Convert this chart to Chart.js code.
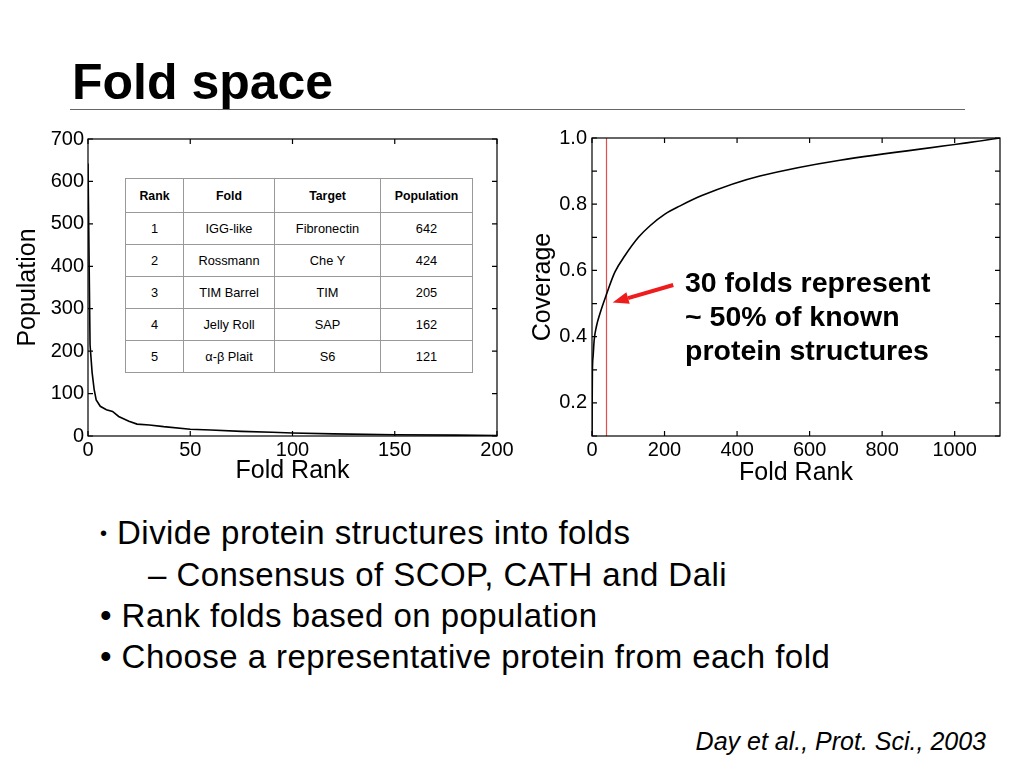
<!DOCTYPE html>
<html lang="en">
  <head>
    <meta charset="UTF-8" />
    <title>Fold space</title>
    <script src="https://cdn.jsdelivr.net/npm/chart.js"></script>
    <style>
      body {
        margin: 0;
        width: 1024px;
        height: 768px;
        overflow: hidden;
        background: #fff;
        font-family: "Liberation Sans", Arial, sans-serif;
        color: #000;
        position: relative;
      }
      h1 {
        position: absolute;
        left: 72px;
        top: 50px;
        margin: 0;
        font-size: 50px;
        font-weight: bold;
        line-height: 64px;
      }
      .rule {
        position: absolute;
        left: 70px;
        top: 109px;
        width: 895px;
        height: 0;
        border-top: 1.5px solid #666;
      }
      #popBox { position: absolute; left: 0; top: 120px; width: 530px; height: 370px; }
      #covBox { position: absolute; left: 520px; top: 120px; width: 504px; height: 370px; }
      table.folds {
        position: absolute;
        left: 125px;
        top: 178px;
        width: 348px;
        border-collapse: collapse;
        border: 1.5px solid #333;
        font-size: 12.8px;
        background: #fff;
      }
      table.folds th, table.folds td {
        border: 1px solid #999;
        text-align: center;
        padding: 0;
        height: 31px;
      }
      table.folds th { height: 33px; font-weight: bold; font-size: 12.3px; }
      .note {
        position: absolute;
        left: 685px;
        top: 265px;
        font-size: 28.5px;
        font-weight: bold;
        line-height: 34px;
      }
      .bullets {
        position: absolute;
        left: 100px;
        top: 512px;
        font-size: 33px;
        letter-spacing: 0.45px;
        line-height: 41px;
      }
      .bullets .small { font-size: 20px; vertical-align: 4px; }
      .cite {
        position: absolute;
        right: 38px;
        top: 727px;
        font-size: 25px;
        font-style: italic;
      }
    </style>
  </head>
  <body>
    <h1>Fold space</h1>
    <div class="rule"></div>

    <div id="popBox"><canvas id="popChart"></canvas></div>
    <div id="covBox"><canvas id="covChart"></canvas></div>

    <table class="folds">
      <tr><th style="width:57px">Rank</th><th style="width:90px">Fold</th><th style="width:105px">Target</th><th>Population</th></tr>
      <tr><td>1</td><td>IGG-like</td><td>Fibronectin</td><td>642</td></tr>
      <tr><td>2</td><td>Rossmann</td><td>Che Y</td><td>424</td></tr>
      <tr><td>3</td><td>TIM Barrel</td><td>TIM</td><td>205</td></tr>
      <tr><td>4</td><td>Jelly Roll</td><td>SAP</td><td>162</td></tr>
      <tr><td>5</td><td>&alpha;-&beta; Plait</td><td>S6</td><td>121</td></tr>
    </table>

    <div class="note">30 folds represent<br />~ 50% of known<br />protein structures</div>

    <div class="bullets">
      <div><span class="small">•</span> Divide protein structures into folds</div>
      <div style="padding-left:48px">– Consensus of SCOP, CATH and Dali</div>
      <div>• Rank folds based on population</div>
      <div>• Choose a representative protein from each fold</div>
    </div>

    <div class="cite">Day et al., Prot. Sci., 2003</div>

    <script>
      // population per fold rank
      const popRank = [0, 1, 2, 3, 4, 6, 9, 12, 15, 20, 24, 30, 37, 50, 60, 75, 90, 100, 120, 150, 180, 200];
      const popValue = [642, 215, 150, 110, 85, 70, 62, 58, 46, 35, 28, 26, 22, 16, 14, 11, 9, 7, 5, 3, 2, 1];
      const popXTicks = [0, 50, 100, 150, 200];
      const popYTicks = [0, 100, 200, 300, 400, 500, 600, 700];

      // cumulative coverage (right panel)
      const covRank = [0, 0.5, 1, 3, 6, 12, 22, 39, 63, 91, 128, 160, 201, 243, 303, 463, 1125];
      const covValue = [0.1, 0.2, 0.29, 0.34, 0.39, 0.43, 0.47, 0.525, 0.595, 0.645, 0.70, 0.735, 0.77, 0.795, 0.826, 0.885, 1.0];
      const cutoffRank = 40;
      const arrowFrom = [224, 0.556];
      const arrowTo = [57, 0.503];

      const FONT = "'Liberation Sans', Arial, sans-serif";

      // matlab-style frame with inward ticks on all four sides
      const framePlugin = {
        id: "frame",
        afterDatasetsDraw(chart, args, opts) {
          const { ctx, chartArea: a, scales } = chart;
          ctx.save();
          ctx.strokeStyle = "#000";
          ctx.lineWidth = 1.2;
          ctx.strokeRect(a.left, a.top, a.right - a.left, a.bottom - a.top);
          const len = 5;
          ctx.beginPath();
          scales.x.ticks.forEach((t) => {
            const px = scales.x.getPixelForValue(t.value);
            ctx.moveTo(px, a.bottom); ctx.lineTo(px, a.bottom - len);
            ctx.moveTo(px, a.top); ctx.lineTo(px, a.top + len);
          });
          scales.y.ticks.forEach((t) => {
            const py = scales.y.getPixelForValue(t.value);
            ctx.moveTo(a.left, py); ctx.lineTo(a.left + len, py);
            ctx.moveTo(a.right, py); ctx.lineTo(a.right - len, py);
          });
          ctx.stroke();

          if (opts && opts.arrow) {
            const x0 = scales.x.getPixelForValue(arrowFrom[0]);
            const y0 = scales.y.getPixelForValue(arrowFrom[1]);
            const x1 = scales.x.getPixelForValue(arrowTo[0]);
            const y1 = scales.y.getPixelForValue(arrowTo[1]);
            const ang = Math.atan2(y1 - y0, x1 - x0);
            const head = 16;
            const bx = x1 - head * Math.cos(ang), by = y1 - head * Math.sin(ang);
            ctx.strokeStyle = "#ee1c1c";
            ctx.fillStyle = "#ee1c1c";
            ctx.lineWidth = 4;
            ctx.beginPath();
            ctx.moveTo(x0, y0); ctx.lineTo(bx, by);
            ctx.stroke();
            ctx.beginPath();
            ctx.moveTo(x1, y1);
            ctx.lineTo(bx + 6 * Math.sin(ang), by - 6 * Math.cos(ang));
            ctx.lineTo(bx - 6 * Math.sin(ang), by + 6 * Math.cos(ang));
            ctx.closePath();
            ctx.fill();
          }
          ctx.restore();
        },
      };

      Chart.defaults.font.family = FONT;
      Chart.defaults.color = "#000";

      const toXY = (xs, ys) => xs.map((x, i) => ({ x: x, y: ys[i] }));
      const noGrid = { display: false, drawTicks: false, tickLength: 0 };

      new Chart(document.getElementById("popChart"), {
        type: "scatter",
        data: {
          datasets: [
            {
              data: toXY(popRank, popValue),
              showLine: true,
              borderColor: "#000",
              borderWidth: 1.6,
              pointRadius: 0,
              tension: 0,
            },
          ],
        },
        options: {
          responsive: true,
          maintainAspectRatio: false,
          animation: false,
          layout: { padding: { top: 19, right: 33, left: 0, bottom: 0 } },
          plugins: { legend: { display: false }, tooltip: { enabled: false } },
          scales: {
            x: {
              type: "linear",
              min: 0,
              max: 200,
              afterBuildTicks: (s) => { s.ticks = popXTicks.map((v) => ({ value: v })); },
              afterFit: (s) => { s.height = 54; },
              grid: noGrid,
              border: { display: false },
              ticks: { font: { size: 20 }, padding: 2, maxRotation: 0, callback: (v) => String(v) },
              title: { display: true, text: "Fold Rank", font: { size: 25 }, padding: { top: 0, bottom: 4 } },
            },
            y: {
              min: 0,
              max: 700,
              afterBuildTicks: (s) => { s.ticks = popYTicks.map((v) => ({ value: v })); },
              afterFit: (s) => { s.width = 88; },
              grid: noGrid,
              border: { display: false },
              ticks: { font: { size: 20 }, padding: 4, callback: (v) => String(v) },
              title: { display: true, text: "Population", font: { size: 25 }, padding: { top: 13, bottom: 0 } },
            },
          },
        },
        plugins: [framePlugin],
      });

      new Chart(document.getElementById("covChart"), {
        type: "scatter",
        data: {
          datasets: [
            {
              data: toXY(covRank, covValue),
              showLine: true,
              borderColor: "#000",
              borderWidth: 1.6,
              pointRadius: 0,
              cubicInterpolationMode: "monotone",
            },
            {
              data: [{ x: cutoffRank, y: 0.1 }, { x: cutoffRank, y: 1.0 }],
              showLine: true,
              borderColor: "#e0504a",
              borderWidth: 1.2,
              pointRadius: 0,
            },
          ],
        },
        options: {
          responsive: true,
          maintainAspectRatio: false,
          animation: false,
          layout: { padding: { top: 18, right: 24, left: 0, bottom: 0 } },
          plugins: { legend: { display: false }, tooltip: { enabled: false }, frame: { arrow: true } },
          scales: {
            x: {
              type: "linear",
              min: 0,
              max: 1125,
              ticks: { stepSize: 200, includeBounds: false, font: { size: 20 }, padding: 2, maxRotation: 0, callback: (v) => String(v) },
              afterFit: (s) => { s.height = 54; },
              grid: noGrid,
              border: { display: false },
              title: { display: true, text: "Fold Rank", font: { size: 25 }, padding: { top: 0, bottom: 2 } },
            },
            y: {
              min: 0.1,
              max: 1.0,
              ticks: {
                stepSize: 0.1,
                font: { size: 20 },
                padding: 5,
                callback: (v) => (Math.round(v * 10) % 2 === 0 ? v.toFixed(1) : ""),
              },
              afterFit: (s) => { s.width = 72; },
              grid: noGrid,
              border: { display: false },
              title: { display: true, text: "Coverage", font: { size: 25 }, padding: { top: 8, bottom: 0 } },
            },
          },
        },
        plugins: [framePlugin],
      });
    </script>
  </body>
</html>
